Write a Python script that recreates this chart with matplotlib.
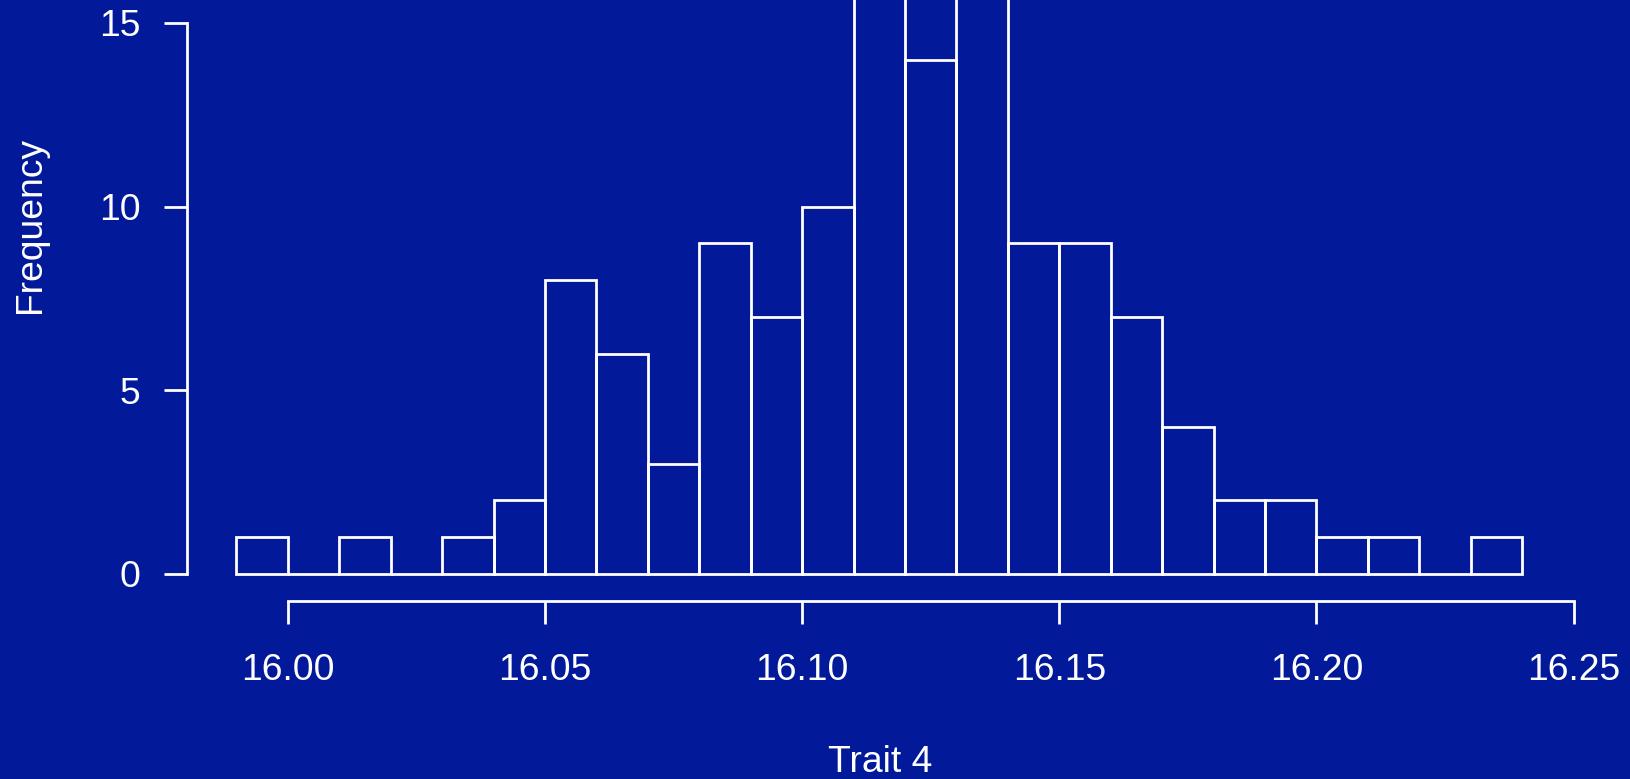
import numpy as np
import matplotlib
matplotlib.use("Agg")
import matplotlib.pyplot as plt

# histogram of Trait 4, bins of width 0.01 starting at 15.99
bin_starts = np.round(np.arange(15.99, 16.235, 0.01), 2)
counts = [1, 0, 1, 0, 1, 2, 8, 6, 3, 9, 7, 10, 17, 14, 16, 9, 9, 7, 4, 2, 2, 1, 1, 0, 1]
bin_width = 0.01
x_ticks = [16.00, 16.05, 16.10, 16.15, 16.20, 16.25]
y_ticks = [0, 5, 10, 15]

bg = "#02199a"
fg = "white"
plt.rcParams["font.family"] = ["Liberation Sans", "DejaVu Sans"]
fs = 26.8

fig = plt.figure(figsize=(16.31, 7.79), dpi=100, facecolor=bg)
ax = fig.add_axes([187 / 1631, (779 - 601) / 779, (1625 - 187) / 1631, 601 / 779])
ax.set_facecolor(bg)

ax.bar(bin_starts, counts, width=bin_width, align="edge",
       facecolor="none", edgecolor=fg, linewidth=2.0)

ax.set_xlim(15.9804, 16.26)
ax.set_ylim(-0.735, 15.62)

for s in ["top", "right"]:
    ax.spines[s].set_visible(False)
ax.spines["left"].set_bounds(0, 15)
ax.spines["bottom"].set_bounds(16.00, 16.25)
for s in ["left", "bottom"]:
    ax.spines[s].set_color(fg)
    ax.spines[s].set_linewidth(2.0)

ax.set_xticks(x_ticks)
ax.set_xticklabels([f"{v:.2f}" for v in x_ticks])
ax.set_yticks(y_ticks)
ax.tick_params(colors=fg, labelsize=fs, width=2.0, length=16.5)
ax.tick_params(axis="x", pad=21)
ax.tick_params(axis="y", pad=17)

fig.text(31 / 1631, 1 - 225 / 779, "Frequency", rotation=90, color=fg,
         fontsize=fs, ha="center", va="center")
fig.text(880 / 1631, 1 - 762 / 779, "Trait 4", color=fg,
         fontsize=fs, ha="center", va="center")

fig.savefig("out.png", dpi=100, facecolor=bg)
